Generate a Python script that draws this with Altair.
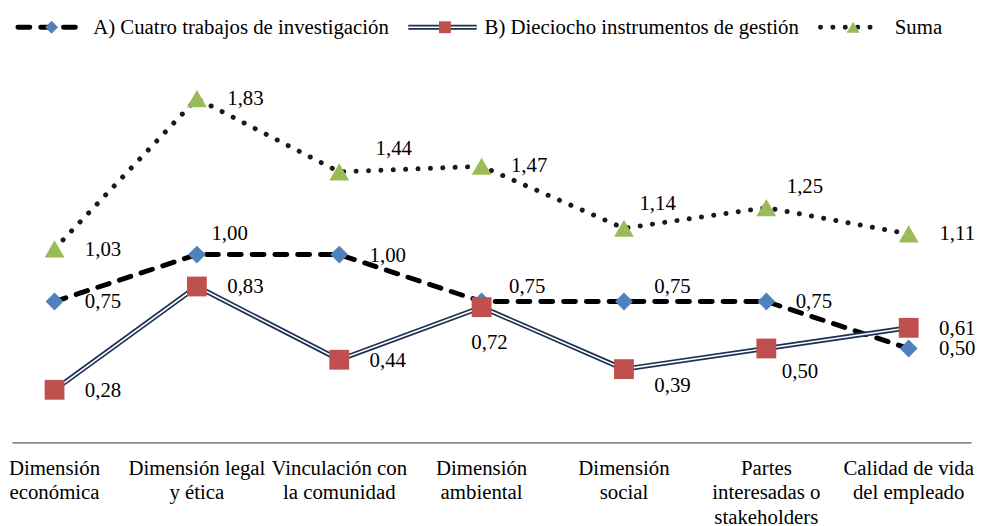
import altair as alt
import pandas as pd

# ---------------- data ----------------
categories = [
    "Dimensión\neconómica",
    "Dimensión legal\ny ética",
    "Vinculación con\nla comunidad",
    "Dimensión\nambiental",
    "Dimensión\nsocial",
    "Partes\ninteresadas o\nstakeholders",
    "Calidad de vida\ndel empleado",
]
serie_a = [0.75, 1.00, 1.00, 0.75, 0.75, 0.75, 0.50]
serie_b = [0.28, 0.83, 0.44, 0.72, 0.39, 0.50, 0.61]
suma = [1.03, 1.83, 1.44, 1.47, 1.14, 1.25, 1.11]
series_names = [
    "A) Cuatro trabajos de investigación",
    "B) Dieciocho instrumentos de gestión",
    "Suma",
]

# data-label placement offsets (pixels), as in the original labels
a_dx = [49, 33, 49, 46, 49, 48, 49]
a_dy = [1, -21, 1, -15, -15, 1, 1]
b_dx = [49, 49, 49, 8, 49, 34, 49]
b_dy = [1, 1, 1, 36, 17, 24, 1]
s_dx = [49, 49, 55, 48, 34, 39, 49]
s_dy = [1, 0, -23, 0, -24, -21, 0]

# ---------------- layout ----------------
W, H = 968, 436
XDOM = [-0.299, 6.438]
YDOM = [0, 2.3]
PX_X = W / (XDOM[1] - XDOM[0])   # pixels per category step
PX_Y = H / (YDOM[1] - YDOM[0])   # pixels per value unit
FONT = "Times New Roman, Liberation Serif, DejaVu Serif, serif"
FS = 21
BLUE, RED, GREEN = "#4F81BD", "#C0504D", "#9BBB59"
NAVY = "#1c3152"


def fmt(v):
    return f"{v:.2f}".replace(".", ",")


def frame(values, dx, dy):
    return pd.DataFrame({
        "i": list(range(len(values))),
        "v": values,
        "lab": [fmt(v) for v in values],
        "dx": dx,
        "dy": dy,
    })


df_a = frame(serie_a, a_dx, a_dy)
df_b = frame(serie_b, b_dx, b_dy)
df_s = frame(suma, s_dx, s_dy)
df_cat = pd.DataFrame({"i": list(range(len(categories))), "cat": categories})

xs = alt.Scale(domain=XDOM, nice=False, zero=False)
ys = alt.Scale(domain=YDOM, nice=False, zero=True)
xaxis = alt.Axis(labels=False, ticks=False, grid=False, title=None,
                 domainColor="#8c8c8c", domainWidth=2)
X = alt.X("i:Q", scale=xs, axis=xaxis)
Y = alt.Y("v:Q", scale=ys, axis=None)


def line(df, **kw):
    return alt.Chart(df).mark_line(**kw).encode(x=X, y=Y)


def pts(df, shape, size, color):
    return alt.Chart(df).mark_point(shape=shape, size=size, filled=True,
                                    color=color, opacity=1).encode(x=X, y=Y)


def labels(df):
    return alt.Chart(df).transform_calculate(
        lx=f"datum.i + datum.dx / {PX_X}",
        ly=f"datum.v - datum.dy / {PX_Y}",
    ).mark_text(font=FONT, fontSize=FS, color="black",
                align="center", baseline="middle").encode(
        x=alt.X("lx:Q", scale=xs, axis=xaxis),
        y=alt.Y("ly:Q", scale=ys, axis=None),
        text="lab:N",
    )


line_a = line(df_a, color="black", strokeWidth=5, strokeDash=[12, 11], strokeCap="round")
pts_a = pts(df_a, "diamond", 324, BLUE)
line_b_out = line(df_b, color=NAVY, strokeWidth=5)
line_b_in = line(df_b, color="white", strokeWidth=1.6)
pts_b = pts(df_b, "square", 400, RED)
line_s = line(df_s, color="#1a1a1a", strokeWidth=5, strokeDash=[0.1, 12.4], strokeCap="round")
pts_s = pts(df_s, "triangle-up", 400, GREEN)

cat_text = alt.Chart(df_cat).mark_text(
    font=FONT, fontSize=FS, color="black", align="center",
    baseline="alphabetic", lineBreak="\n", lineHeight=24.5,
).encode(x=X, y=alt.value(H + 33), text="cat:N")

# ---------------- legend (drawn at the top) ----------------
ld = pd.DataFrame({"k": [0]})
LY = 17


def lrule(x1, x2, **kw):
    return alt.Chart(ld).mark_rule(**kw).encode(
        x=alt.value(x1), x2=alt.value(x2), y=alt.value(LY))


def lpt(x, shape, size, color):
    return alt.Chart(ld).mark_point(shape=shape, size=size, filled=True,
                                    color=color, opacity=1).encode(
        x=alt.value(x), y=alt.value(LY))


def ltext(x, txt):
    return alt.Chart(ld).mark_text(font=FONT, fontSize=FS, color="black",
                                   align="left", baseline="middle").encode(
        x=alt.value(x), y=alt.value(LY + 1), text=alt.value(txt))


legend = [
    lrule(6, 68, color="black", strokeWidth=5, strokeDash=[12, 11], strokeCap="round"),
    lpt(40, "diamond", 170, BLUE),
    ltext(82, series_names[0]),
    lrule(400, 469, color=NAVY, strokeWidth=5),
    lrule(400, 469, color="white", strokeWidth=1.6),
    lpt(437, "square", 144, RED),
    ltext(477, series_names[1]),
    lrule(816, 877, color="#1a1a1a", strokeWidth=5, strokeDash=[0.1, 12.4], strokeCap="round"),
    lpt(849, "triangle-up", 170, GREEN),
    ltext(891, series_names[2]),
]

chart = alt.layer(
    line_a, pts_a, line_b_out, line_b_in, pts_b, line_s, pts_s,
    labels(df_a), labels(df_b), labels(df_s), cat_text, *legend,
).properties(width=W, height=H, padding=0).configure_view(stroke=None)

chart.save("out.html", embed_options={"renderer": "svg", "actions": False})
